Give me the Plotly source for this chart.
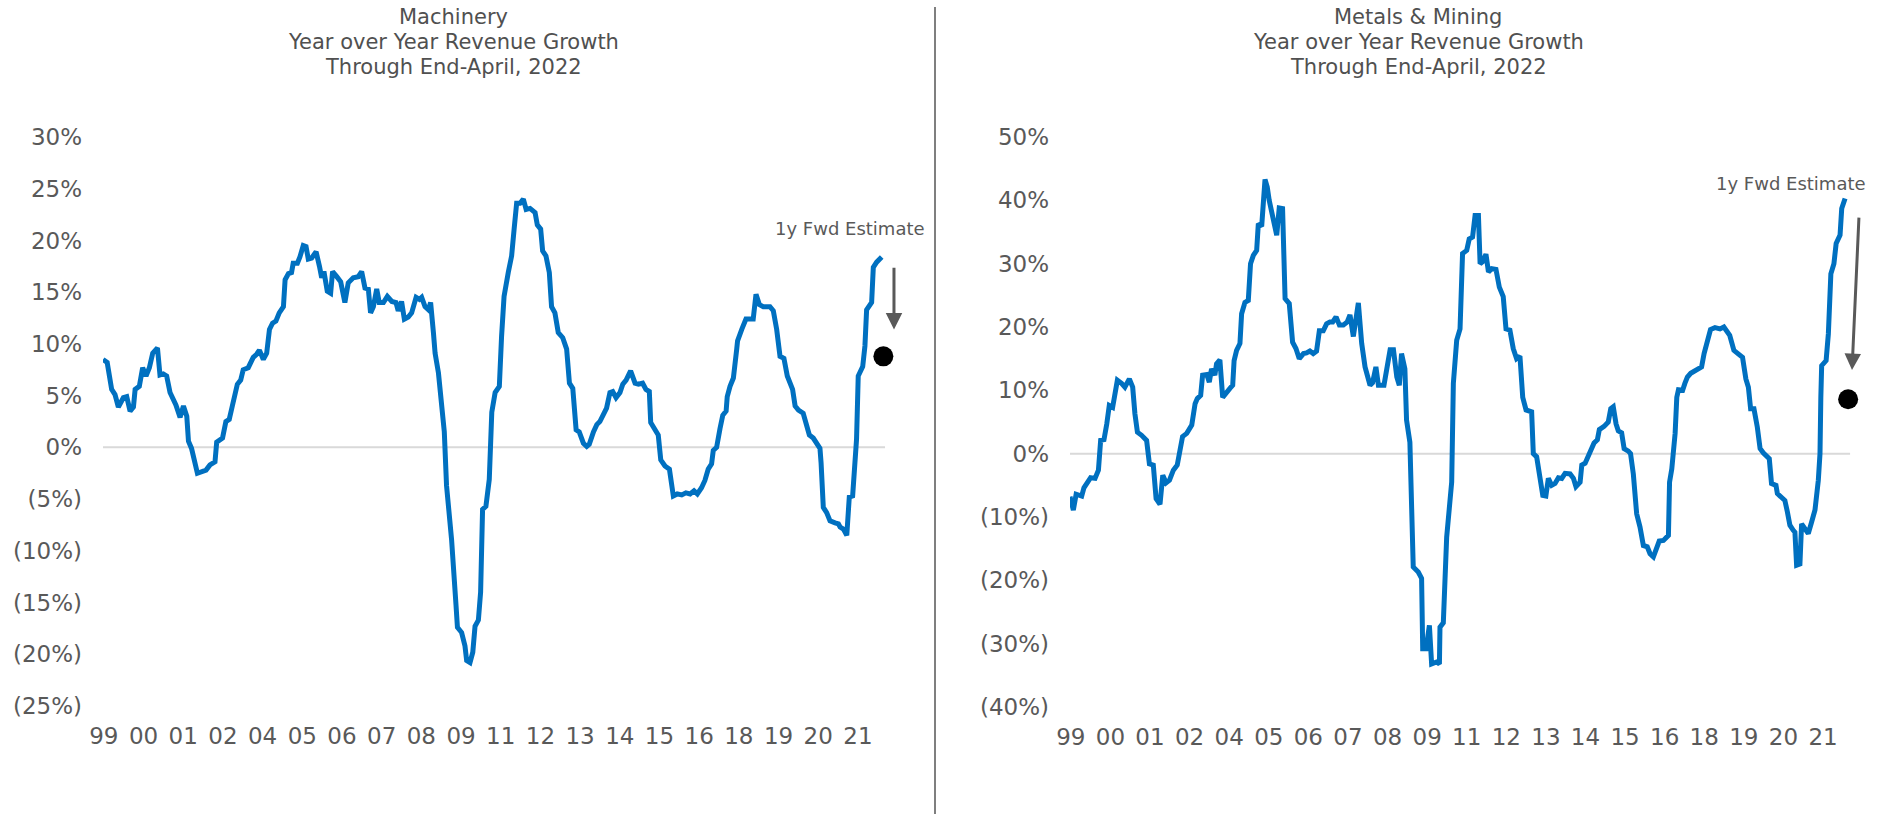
import plotly.graph_objects as go

W, H = 1892, 814

# ---------------- data ----------------
tick_labels = ["99", "00", "01", "02", "04", "05", "06", "07", "08", "09",
               "11", "12", "13", "14", "15", "16", "18", "19", "20", "21"]

# months since start of 1999 (approx.), YoY revenue growth in %
mach_month = [0, 1.5, 3.1, 4.3, 5.5, 7.3, 8.5, 9.7, 10.9, 11.5, 13.0, 14.2, 15.4, 16.6, 17.8, 19.5,
              20.4, 21.6, 22.8, 24.0, 26.1, 27.6, 28.8, 30.0, 30.6, 31.7, 33.8, 35.3, 36.9, 38.3,
              40.1, 40.7, 42.8, 44.0, 45.2, 46.3, 47.3, 48.1, 49.3, 50.2, 52.0, 53.8, 55.0, 56.0,
              57.4, 58.6, 59.6, 60.7, 61.9, 63.1, 64.6, 65.2, 66.4, 67.5, 68.1, 69.6, 70.5, 71.7,
              72.7, 73.5, 74.7, 76.3, 77.5, 78.3, 79.1, 80.3, 81.5, 82.2, 83.7, 85.1, 86.6, 87.8,
              89.6, 91.4, 92.6, 93.8, 95.0, 95.8, 96.8, 98.0, 98.9, 100.4, 101.8, 103.4, 104.9,
              105.7, 106.9, 107.9, 109.3, 110.5, 112.1, 113.3, 114.1, 115.3, 116.5, 117.3, 118.3,
              118.9, 120.1, 121.3, 122.2, 123.0, 124.8, 126.4, 126.9, 128.4, 129.6, 130.2, 131.4,
              132.4, 133.2, 134.4, 135.2, 135.9, 137.1, 138.3, 139.2, 140.4, 141.9, 142.7, 143.6,
              145.1, 146.3, 147.2, 148.1, 149.3, 150.5, 151.5, 152.9, 154.7, 155.5, 156.7, 157.4,
              158.6, 159.8, 160.6, 161.8, 163.0, 164.6, 166.0, 167.0, 168.2, 169.4, 170.5, 172.0,
              173.2, 174.1, 175.6, 176.8, 177.9, 179.1, 180.3, 181.5, 182.5, 183.7, 185.1, 186.1,
              187.3, 188.9, 190.5, 191.7, 193.2, 194.4, 195.6, 196.1, 197.6, 198.8, 199.7, 201.2,
              202.8, 204.2, 205.6, 207.2, 208.7, 210.2, 211.6, 212.8, 214.3, 215.5, 216.7, 217.9,
              218.5, 219.7, 220.9, 221.9, 223.1, 223.5, 224.5, 225.7, 226.9, 227.2, 228.7, 230.2,
              231.1, 232.8, 233.8, 235.0, 236.4, 238.8, 240.0, 241.2, 242.4, 243.8, 245.0, 246.9,
              247.8, 249.0, 250.7, 251.9, 252.9, 254.3, 255.5, 256.7, 257.1, 257.9, 259.1, 260.3,
              262.1, 263.3, 263.9, 265.1, 266.3, 267.2, 268.4, 269.2, 269.8, 270.4, 272.0, 272.8,
              273.4, 275.2, 275.8, 277.0, 278.8]
mach_growth = [8.5, 8.2, 5.6, 5.1, 3.9, 4.8, 4.9, 3.5, 3.9, 5.6, 5.9, 7.7, 6.9, 7.7, 9.1, 9.6,
               7.0, 7.1, 6.9, 5.3, 4.1, 2.9, 4.0, 3.0, 0.6, -0.1, -2.5, -2.3, -2.2, -1.7,
               -1.4, 0.5, 0.9, 2.5, 2.7, 4.0, 5.3, 6.1, 6.5, 7.5, 7.7, 8.7, 9.0, 9.4,
               8.5, 9.1, 11.4, 12.0, 12.2, 13.0, 13.6, 16.2, 16.8, 16.9, 17.8, 17.8, 18.4, 19.5,
               19.4, 18.2, 18.3, 18.9, 17.5, 16.4, 17.0, 15.1, 14.9, 17.0, 16.5, 16.0, 14.0, 15.9,
               16.4, 16.5, 17.0, 15.4, 15.3, 13.0, 13.6, 15.3, 14.0, 14.0, 14.6, 14.1, 14.0,
               13.2, 14.1, 12.4, 12.6, 13.0, 14.5, 14.3, 14.5, 13.6, 13.3, 14.0, 11.1,
               9.1, 7.2, 3.2, 1.5, -3.7, -8.9, -15.3, -17.4, -17.9, -19.2, -20.6, -20.8,
               -19.8, -17.3, -16.7, -14.0, -6.0, -5.7, -3.1, 3.4, 5.3, 5.9, 10.7, 14.6,
               16.9, 18.5, 21.1, 23.6, 23.6, 24.0, 23.0, 23.1, 22.7, 21.5, 21.1, 19.0,
               18.5, 16.9, 13.6, 13.0, 11.1, 10.6, 9.5, 6.2, 5.7, 1.7, 1.5, 0.4,
               0.1, 0.3, 1.5, 2.2, 2.5, 3.3, 3.8, 5.3, 5.4, 4.8, 5.3, 6.1,
               6.5, 7.4, 6.2, 6.1, 6.2, 5.6, 5.4, 2.4, 1.7, 1.2, -1.2, -1.8,
               -2.1, -4.7, -4.5, -4.6, -4.4, -4.5, -4.2, -4.5, -3.9, -3.2, -2.1, -1.6,
               -0.3, 0.0, 1.8, 3.1, 3.5, 4.9, 5.9, 6.7, 9.5, 10.3, 11.4, 12.4,
               12.4, 12.4, 14.8, 13.8, 13.6, 13.6, 13.2, 11.4, 8.8, 8.6, 6.9, 5.6,
               4.0, 3.6, 3.3, 1.9, 1.2, 0.9, 0.3, -0.1, -1.5, -5.8, -6.3, -7.1,
               -7.3, -7.4, -7.7, -7.9, -8.5, -4.8, -4.7, -1.8, 0.8, 6.9, 7.8, 9.8,
               13.3, 14.0, 17.4, 17.9, 18.4]
mach_estimate_month = [279.4]
mach_estimate = [8.8]

metals_month = [0, 1.2, 2.2, 3.6, 4.2, 5.0, 6.0, 7.4, 9.0, 10.2, 11.0, 12.2, 13.2, 14.1, 15.3,
                15.6, 17.0, 18.5, 19.7, 21.3, 22.5, 23.3, 24.2, 25.7, 27.5, 28.5, 29.9,
                30.9, 32.3, 33.3, 34.5, 35.7, 37.1, 38.5, 39.5, 40.4, 41.9, 43.7, 44.9,
                45.7, 46.9, 47.6, 49.1, 50.0, 50.8, 52.0, 52.6, 53.8, 54.8, 56.0, 57.4, 58.4,
                58.9, 59.8, 61.0, 61.6, 62.8, 64.0, 64.8, 65.8, 67.0, 67.6, 68.8, 70.0, 70.8,
                71.5, 73.0, 74.2, 75.1, 76.3, 77.2, 78.7, 79.9, 81.1, 82.3, 83.8, 84.9, 86.1,
                87.3, 88.5, 89.5, 90.9, 92.1, 93.3, 94.3, 95.5, 96.7, 98.1, 99.5, 100.5, 101.7,
                103.5, 104.7, 105.9, 107.7, 108.6, 109.8, 110.7, 112.7, 113.7, 114.9, 116.1,
                117.3, 118.2, 119.0, 120.2, 120.8, 122.0, 123.2, 125.0, 126.2, 126.6, 127.8,
                129.0, 129.8, 131.6, 132.6, 132.8, 134.0, 135.2, 136.2, 137.0, 137.6, 138.8,
                140.0, 140.9, 142.4, 143.3, 144.5, 145.4, 146.6, 147.2, 148.1, 149.3, 150.2,
                151.4, 152.9, 154.1, 155.5, 156.5, 157.9, 159.1, 160.3, 161.5, 162.5, 163.7,
                165.7, 166.3, 167.5, 168.7, 169.7, 170.8, 171.7, 172.9, 174.1, 175.3, 176.5,
                177.7, 179.5, 180.7, 181.6, 183.1, 183.7, 184.9, 186.0, 186.9, 188.1, 189.3,
                190.0, 191.7, 193.2, 194.1, 195.0, 196.0, 196.8, 198.0, 198.9, 200.4, 201.2,
                202.2, 203.4, 204.6, 205.8, 207.2, 208.2, 209.4, 210.3, 211.5, 213.0, 214.8,
                215.2, 216.0, 217.2, 217.8, 218.4, 219.9, 220.7, 221.6, 222.8, 224.3, 225.5,
                226.7, 227.6, 228.5, 229.9, 231.5, 233.3, 234.7, 235.7, 236.8, 238.3, 239.5,
                241.4, 242.6, 243.5, 244.3, 245.5, 246.7, 247.7, 248.9, 250.1, 251.0, 251.8,
                253.4, 253.9, 255.4, 256.6, 257.5, 258.4, 259.6, 260.2, 260.8, 262.0, 262.6,
                263.8, 265.0, 266.2, 267.4, 268.6, 269.2, 269.5, 269.8, 271.4, 272.2, 273.1,
                274.2, 275.0, 276.4, 277.0, 278.2]
metals_growth = [-6.8, -8.9, -6.4, -6.6, -6.7, -5.4, -4.8, -3.8, -3.9, -2.6, 2.1, 2.2, 4.7, 7.6, 7.3,
                 7.9, 11.6, 11.1, 10.5, 11.8, 10.5, 6.3, 3.4, 2.9, 2.1, -1.6, -1.8,
                 -7.1, -8.0, -3.4, -4.6, -4.2, -2.6, -1.8, 0.8, 2.7, 3.2, 4.5, 7.9,
                 8.7, 9.2, 12.4, 12.5, 11.3, 13.4, 12.4, 14.2, 14.8, 8.9, 9.7, 10.3, 10.8,
                 14.7, 16.3, 17.4, 22.1, 23.9, 24.2, 30.0, 31.3, 32.1, 36.3, 35.9, 43.3, 42.1,
                 40.0, 36.8, 34.5, 38.8, 38.7, 24.5, 23.7, 17.6, 16.6, 15.0, 15.8, 15.9, 16.2,
                 15.8, 16.2, 19.4, 19.4, 20.5, 20.8, 20.8, 21.6, 20.3, 20.3, 20.8, 21.9, 18.5,
                 23.8, 17.4, 13.7, 10.8, 11.2, 13.7, 10.8, 10.8, 13.7, 16.4, 16.4,
                 12.1, 10.8, 15.8, 13.4, 5.3, 1.8, -17.9, -18.7, -19.7, -30.8, -30.8,
                 -27.1, -33.2, -32.9, -33.2, -27.4, -26.7, -13.2, -7.4, -4.5, 11.1, 17.9,
                 19.7, 31.6, 32.1, 33.9, 34.2, 37.6, 37.6, 30.0, 30.3, 31.5, 28.7,
                 29.2, 29.1, 26.3, 24.8, 19.7, 19.5, 16.6, 15.0, 15.4, 8.9, 6.9,
                 6.6, 0.0, -0.5, -3.7, -6.6, -6.7, -3.9, -5.0, -4.7, -3.8, -3.9,
                 -3.1, -3.2, -3.9, -5.2, -4.5, -1.8, -1.5, -0.4, 0.8, 1.7, 2.2,
                 3.8, 4.3, 5.0, 7.1, 7.4, 4.7, 3.6, 3.3, 0.8, 0.4, 0.0,
                 -3.2, -9.5, -11.6, -14.5, -14.7, -15.8, -16.3, -15.0, -13.8, -13.7, -12.9,
                 -4.5, -2.4, 3.2, 8.9, 10.1, 10.0, 11.1, 12.1, 12.7, 13.1, 13.4,
                 13.7, 15.8, 17.6, 19.6, 19.9, 19.7, 20.0, 19.2, 18.7, 16.3, 15.8,
                 15.2, 11.8, 10.5, 7.1, 7.1, 4.2, 0.8, 0.1, -0.3, -0.8, -4.7,
                 -5.0, -6.3, -6.8, -7.4, -9.2, -11.3, -12.1, -12.4, -17.6, -17.4, -11.1,
                 -11.8, -12.6, -10.8, -8.9, -4.2, 0.0, 8.9, 13.9, 14.7, 18.9, 28.4,
                 30.0, 33.2, 34.5, 38.7, 40.3]
metals_estimate_month = [279.3]
metals_estimate = [8.6]

mach_yticks = [-25, -20, -15, -10, -5, 0, 5, 10, 15, 20, 25, 30]
metals_yticks = [-40, -30, -20, -10, 0, 10, 20, 30, 40, 50]

mach_title = ["Machinery", "Year over Year Revenue Growth", "Through End-April, 2022"]
metals_title = ["Metals & Mining", "Year over Year Revenue Growth", "Through End-April, 2022"]


def pct_label(v):
    return f"({abs(v)}%)" if v < 0 else f"{v}%"


# ---------------- styling ----------------
FONT = "DejaVu Sans"
BLUE = "#0070C0"
GREY_TXT = "#595959"
TITLE_CLR = "#505050"


def px(p):
    return p / W


def py(p):
    return 1 - p / H


tick_positions = [0.3 + 14.21 * k for k in range(len(tick_labels))]

fig = go.Figure()

fig.add_trace(go.Scatter(x=mach_month, y=mach_growth, mode="lines",
                         line=dict(color=BLUE, width=5), xaxis="x", yaxis="y",
                         hoverinfo="skip"))
fig.add_trace(go.Scatter(x=mach_estimate_month, y=mach_estimate, mode="markers",
                         marker=dict(color="black", size=20), xaxis="x", yaxis="y",
                         cliponaxis=False))
fig.add_trace(go.Scatter(x=metals_month, y=metals_growth, mode="lines",
                         line=dict(color=BLUE, width=5), xaxis="x2", yaxis="y2",
                         hoverinfo="skip"))
fig.add_trace(go.Scatter(x=metals_estimate_month, y=metals_estimate, mode="markers",
                         marker=dict(color="black", size=20), xaxis="x2", yaxis="y2",
                         cliponaxis=False))

xcommon = dict(range=[0, 290], showgrid=False, zeroline=False, showline=False, ticks="",
               tickmode="array", tickvals=tick_positions, ticktext=tick_labels,
               tickfont=dict(family=FONT, size=23, color=GREY_TXT), ticklabelstandoff=14,
               fixedrange=True, automargin=False)
ycommon = dict(showgrid=False, zeroline=False, showline=False, ticks="",
               tickfont=dict(family=FONT, size=23, color=GREY_TXT), ticklabelstandoff=20,
               fixedrange=True, automargin=False)

L0 = 103
R0 = 1070
fig.update_layout(
    template="none",
    width=W, height=H, margin=dict(l=0, r=0, t=0, b=0, pad=0),
    plot_bgcolor="white", paper_bgcolor="white", showlegend=False,
    xaxis=dict(domain=[px(L0), px(L0 + 290 * 2.793)], anchor="y", **xcommon),
    yaxis=dict(domain=[py(706), py(137)], range=[-25, 30], anchor="x",
               tickmode="array", tickvals=mach_yticks,
               ticktext=[pct_label(v) for v in mach_yticks], **ycommon),
    xaxis2=dict(domain=[px(R0), px(R0 + 290 * 2.786)], anchor="y2", **xcommon),
    yaxis2=dict(domain=[py(707), py(137)], range=[-40, 50], anchor="x2",
                tickmode="array", tickvals=metals_yticks,
                ticktext=[pct_label(v) for v in metals_yticks], **ycommon),
)

# zero lines and separator
fig.add_shape(type="line", xref="x", yref="y", x0=0, x1=280, y0=0, y1=0,
              line=dict(color="#d9d9d9", width=2), layer="below")
fig.add_shape(type="line", xref="x2", yref="y2", x0=0, x1=280, y0=0, y1=0,
              line=dict(color="#d9d9d9", width=2), layer="below")
fig.add_shape(type="line", xref="paper", yref="paper", x0=px(935), x1=px(935),
              y0=0, y1=py(7), line=dict(color="#7f7f7f", width=2))

# titles (one annotation per line for tight line spacing)
for i, (a, b) in enumerate(zip(mach_title, metals_title)):
    ypix = 17 + 25 * i
    fig.add_annotation(xref="paper", yref="paper", x=px(453), y=py(ypix), xanchor="center",
                       yanchor="middle", showarrow=False, text=a,
                       font=dict(family=FONT, size=21, color=TITLE_CLR))
    fig.add_annotation(xref="paper", yref="paper", x=px(1418), y=py(ypix), xanchor="center",
                       yanchor="middle", showarrow=False, text=b,
                       font=dict(family=FONT, size=21, color=TITLE_CLR))

# estimate labels
fig.add_annotation(xref="paper", yref="paper", x=px(927), y=py(228), xanchor="right",
                   yanchor="middle", showarrow=False, text="1y Fwd Estimate",
                   font=dict(family=FONT, size=18, color=GREY_TXT))
fig.add_annotation(xref="paper", yref="paper", x=px(1868), y=py(184), xanchor="right",
                   yanchor="middle", showarrow=False, text="1y Fwd Estimate",
                   font=dict(family=FONT, size=18, color=GREY_TXT))

# arrows
fig.add_annotation(xref="x", yref="y", axref="x", ayref="y", x=283.2, y=11.4,
                   ax=283.2, ay=17.5, text="", showarrow=True, arrowhead=2,
                   arrowsize=1.1, arrowwidth=3, arrowcolor=GREY_TXT)
fig.add_annotation(xref="x2", yref="y2", axref="x2", ayref="y2", x=280.7, y=13.2,
                   ax=283.2, ay=37.5, text="", showarrow=True, arrowhead=2,
                   arrowsize=1.1, arrowwidth=3, arrowcolor=GREY_TXT)

fig.write_html("out.html")
